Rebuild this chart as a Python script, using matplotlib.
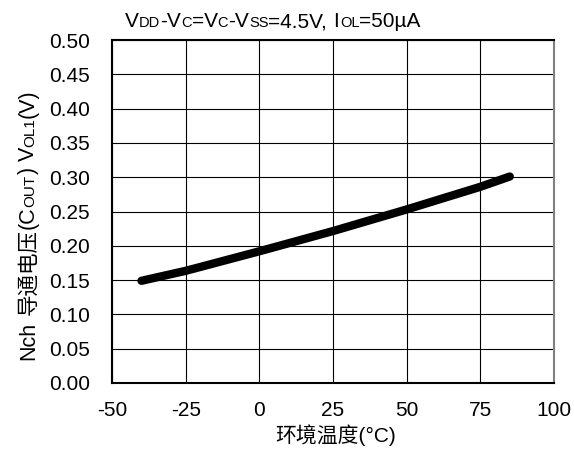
import numpy as np
import matplotlib
matplotlib.use("Agg")
import matplotlib.pyplot as plt
from matplotlib.transforms import IdentityTransform

FAM = ['Liberation Sans', 'Noto Sans CJK SC', 'DejaVu Sans']
plt.rcParams['font.family'] = FAM
plt.rcParams['axes.unicode_minus'] = False

# data
temp = [-40, -25, 0, 25, 50, 75, 85]
vol1 = [0.149, 0.1635, 0.192, 0.2215, 0.253, 0.286, 0.301]

xticks = [-50, -25, 0, 25, 50, 75, 100]
yticks = np.arange(0, 0.501, 0.05)

W, H = 574, 451
fig = plt.figure(figsize=(W / 100, H / 100), dpi=100)
ax = fig.add_axes([112 / W, (H - 383) / H, 442 / W, 343 / H])

ax.plot(temp, vol1, color='black', lw=6, solid_capstyle='round',
        solid_joinstyle='round', zorder=3)

ax.set_xlim(-50, 100)
ax.set_ylim(0, 0.5)
ax.set_xticks(xticks)
ax.set_yticks(yticks)
ax.set_yticklabels(['%.2f' % v for v in yticks])
ax.tick_params(labelsize=15, length=0)
ax.tick_params(axis='y', pad=16)
ax.tick_params(axis='x', pad=13)
ax.grid(True, color='black', lw=0.8)
ax.set_axisbelow(True)
for side in ['left', 'bottom', 'top']:
    ax.spines[side].set_linewidth(1.5)
ax.spines['right'].set_color('#808080')
ax.spines['right'].set_linewidth(1.5)


def rich_text(x, y, pieces, rotation=0, center=False):
    # pieces: (text, fontsize, gap_before_px), placed one after another on one baseline
    r = fig.canvas.get_renderer()
    arts = []
    for s, fs, gap in pieces:
        t = fig.text(0, 0, s, transform=IdentityTransform(), fontsize=fs,
                     rotation=rotation, rotation_mode='anchor',
                     ha='left', va='baseline', family=FAM)
        arts.append(t)
    sizes = []
    for t in arts:
        bb = t.get_window_extent(r)
        sizes.append(bb.height if rotation else bb.width)
    total = sum(sizes) + sum(p[2] for p in pieces)
    start = (y if rotation else x) - (total / 2 if center else 0)
    pos = start
    for t, w, p in zip(arts, sizes, pieces):
        pos += p[2]
        t.set_position((x, pos) if rotation else (pos, y))
        pos += w


big, small = 15, 10.5
rich_text(273, H - 27, [
    ('V', big, 0), ('DD', small, 0), ('-V', big, 0), ('C', small, 0),
    ('=V', big, 0), ('C', small, 0), ('-V', big, 0), ('SS', small, 0),
    ('=4.5V,', big, 0), ('I', big, 6), ('OL', small, 1), ('=50µA', big, 0),
], center=True)

ybig, ysmall = 15.5, 11
rich_text(34, H - 225, [
    ('Nch', ybig, 0), ('导通电压', ybig, 7), ('(C', ybig, 0), ('OUT', ysmall, 0),
    (')', ybig, 0), ('V', ybig, 6), ('OL1', ysmall, 0), ('(V)', ybig, 0),
], rotation=90, center=True)

fig.text(336 / W, 16 / H, '环境温度(°C)', ha='center', va='center',
         fontsize=15, family=FAM)

fig.savefig('out.png', dpi=100)
